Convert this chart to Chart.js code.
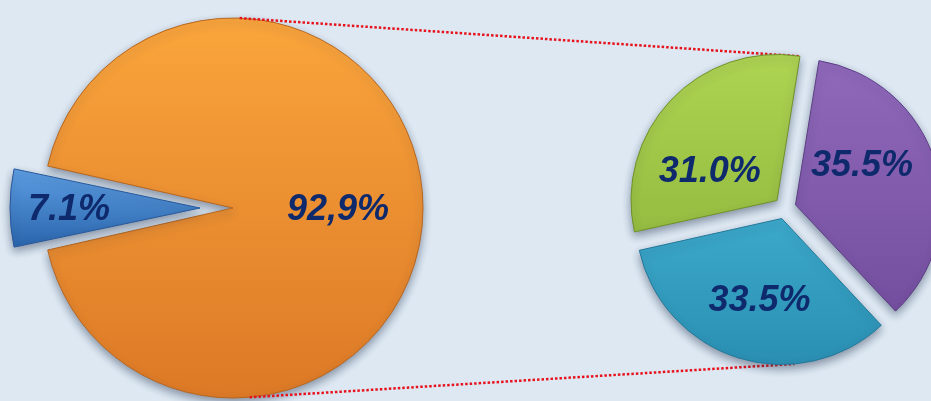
<!DOCTYPE html>
<html>
<head>
<meta charset="utf-8">
<script src="https://cdn.jsdelivr.net/npm/chart.js@4"></script>
<style>
  html, body { margin: 0; padding: 0; width: 931px; height: 401px; overflow: hidden; background: #dde8f3; }
  canvas { position: absolute; left: 0; top: 0; }
</style>
</head>
<body>
<canvas id="left" width="931" height="401"></canvas>
<canvas id="right" width="931" height="401"></canvas>
<script>
// main pie
var mainLabels = ['Grupo A', 'Grupo B'];
var mainValues = [92.9, 7.1];
var mainText = ['92,9%', '7.1%'];

// second pie (split of Grupo B)
var subLabels = ['B1', 'B2', 'B3'];
var subValues = [31.0, 35.5, 33.5];
var subText = ['31.0%', '35.5%', '33.5%'];

var mainTop = ['#faa53c', '#5c9de2'];
var mainBottom = ['#dc7926', '#2b66ad'];
var mainEdge = ['#b8651c', '#25579a'];
var subTop = ['#aed452', '#9169bb', '#4ec3e3'];
var subBottom = ['#86ad35', '#6f4a9a', '#2a8fb2'];
var subEdge = ['#6f9128', '#5b3c84', '#23789a'];

var K = 4; // chart.js v4 moves an arc offset/4 away from the centre
var R1 = 190, R2 = 146;

function gradFill(tops, bottoms, R, stops) {
  return function (c) {
    var a = c.chart.chartArea;
    if (!a) return tops[c.dataIndex];
    var cy = (a.top + a.bottom) / 2;
    var g = c.chart.ctx.createLinearGradient(0, cy - R, 0, cy + R);
    var s = stops ? stops[c.dataIndex] : [0, 1];
    g.addColorStop(s[0], tops[c.dataIndex]);
    g.addColorStop(s[1], bottoms[c.dataIndex]);
    return g;
  };
}

function pieLook(R, texts, fracs, turns) {
  return {
    id: 'pieLook',
    beforeDatasetsDraw: function (chart) {
      // v4 also grows the radius of offset arcs; undo that
      chart.getDatasetMeta(0).data.forEach(function (el) {
        var off = (el.options.offset || 0) / K;
        var fix = 1 - Math.sin(Math.min(Math.PI, el.circumference));
        el.outerRadius = R - off * fix;
      });
      var ctx = chart.ctx;
      ctx.save();
      ctx.shadowColor = 'rgba(30,45,70,0.45)';
      ctx.shadowBlur = 8;
      ctx.shadowOffsetY = 4;
    },
    afterDatasetsDraw: function (chart) {
      var ctx = chart.ctx;
      ctx.restore();
      ctx.save();
      ctx.font = 'italic bold 36px "Liberation Sans", Arial, sans-serif';
      ctx.fillStyle = '#0e2a6c';
      ctx.textAlign = 'center';
      ctx.textBaseline = 'middle';
      chart.getDatasetMeta(0).data.forEach(function (el, i) {
        var mid = (el.startAngle + el.endAngle) / 2;
        var t = (el.options.offset || 0) / K;
        var cx = el.x + Math.cos(mid) * t, cy = el.y + Math.sin(mid) * t;
        var a = mid + turns[i] * Math.PI / 180;
        ctx.fillText(texts[i], cx + Math.cos(a) * R * fracs[i], cy + Math.sin(a) * R * fracs[i]);
      });
      ctx.restore();
    }
  };
}

// blue slice centred on the left side
var mainRotation = 270 - 360 * (mainValues[0] + mainValues[1] / 2) / 100;

var leftChart = new Chart(document.getElementById('left'), {
  type: 'pie',
  data: {
    labels: mainLabels,
    datasets: [{
      data: mainValues,
      radius: R1,
      offset: [0, 132],
      backgroundColor: gradFill(mainTop, mainBottom, R1, [[0, 1], [0.4, 0.6]]),
      borderColor: mainEdge,
      borderWidth: 1
    }]
  },
  options: {
    responsive: false,
    animation: false,
    rotation: mainRotation,
    layout: { padding: { left: 0, right: 465, top: 15, bottom: 0 } },
    plugins: { legend: { display: false }, tooltip: { enabled: false } }
  },
  plugins: [pieLook(R1, mainText, [0.553, 0.69], [1, -0.7])]
});

var connector = {
  id: 'connector',
  beforeDatasetsDraw: function (chart) {
    var big = leftChart.getDatasetMeta(0).data[0];
    var els = chart.getDatasetMeta(0).data;
    var g = els[0], c = els[2];
    function tc(el) {
      var mid = (el.startAngle + el.endAngle) / 2, t = (el.options.offset || 0) / K;
      return { x: el.x + Math.cos(mid) * t, y: el.y + Math.sin(mid) * t };
    }
    var gc = tc(g), cc = tc(c);
    var d = Math.PI / 180;
    var ctx = chart.ctx;
    ctx.save();
    ctx.strokeStyle = '#e8121c';
    ctx.lineWidth = 2.5;
    ctx.setLineDash([2.5, 2]);
    ctx.beginPath();
    ctx.moveTo(big.x + Math.cos(-88 * d) * R1, big.y + Math.sin(-88 * d) * R1);
    ctx.lineTo(gc.x + Math.cos(g.endAngle) * R2, gc.y + Math.sin(g.endAngle) * R2);
    ctx.moveTo(big.x + Math.cos(85 * d) * R1, big.y + Math.sin(85 * d) * R1);
    ctx.lineTo(cc.x + Math.cos(85 * d) * R2, cc.y + Math.sin(85 * d) * R2);
    ctx.stroke();
    ctx.restore();
  }
};

var rightChart = new Chart(document.getElementById('right'), {
  type: 'pie',
  data: {
    labels: subLabels,
    datasets: [{
      data: subValues,
      radius: R2,
      offset: 44,
      backgroundColor: gradFill(subTop, subBottom, R2),
      borderColor: subEdge,
      borderWidth: 1
    }]
  },
  options: {
    responsive: false,
    animation: false,
    rotation: -102.5,
    layout: { padding: { left: 639, right: 0, top: 15, bottom: 0 } },
    plugins: { legend: { display: false }, tooltip: { enabled: false } }
  },
  plugins: [connector, pieLook(R2, subText, [0.5, 0.527, 0.583], [-20.3, -13.2, -2])]
});
</script>
</body>
</html>
